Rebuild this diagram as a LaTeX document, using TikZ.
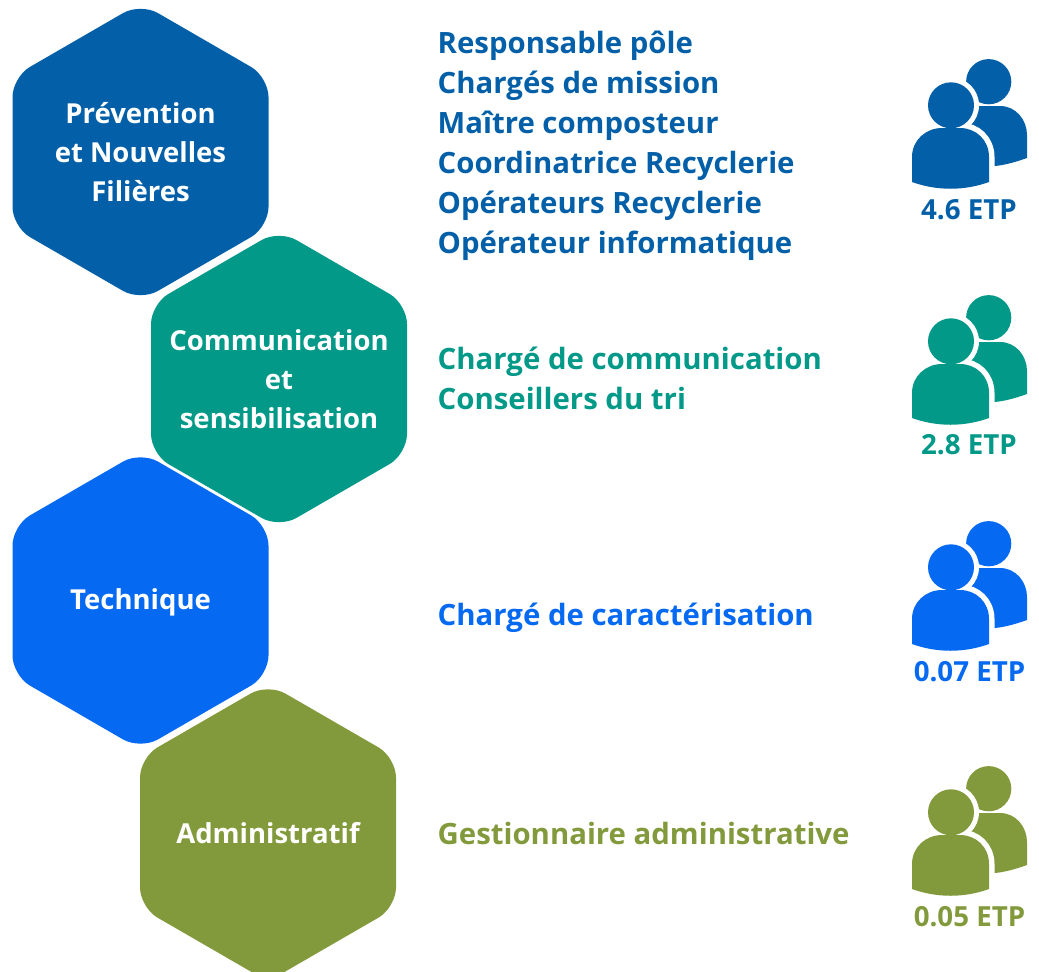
\documentclass[tikz,border=0pt]{standalone}
\usepackage{fontspec}
\setmainfont{Open Sans}
\definecolor{cA}{HTML}{0360A8}
\definecolor{cB}{HTML}{029988}
\definecolor{cC}{HTML}{056AF1}
\definecolor{cD}{HTML}{829A3C}
\tikzset{
  hexfill/.style={rounded corners=20pt,draw=none},
  hexlabel/.style={font=\bfseries\fontsize{27.5}{39}\selectfont,text=white,align=center,anchor=center,inner sep=0pt},
  rolelabel/.style={font=\bfseries\fontsize{29.35}{40}\selectfont,align=left,anchor=west,inner sep=0pt},
  etplabel/.style={font=\bfseries\fontsize{27.7}{30}\selectfont,anchor=center,inner sep=0pt},
}
% #1 centre x, #2 centre y, #3 colour
\newcommand{\hexshape}[3]{%
  \fill[#3,hexfill] (#1,#2-149) -- (#1+128,#2-75) -- (#1+128,#2+75) -- (#1,#2+149) -- (#1-128,#2+75) -- (#1-128,#2-75) -- cycle;}
\newcommand{\bodyshape}{(912,182) -- (912,157) .. controls (912,140) and (926,128) .. (942,128) -- (960,128) .. controls (976,128) and (989,140) .. (989,157) -- (989,182) .. controls (964,191) and (937,191) .. (912,182) -- cycle}
% #1 y offset, #2 colour
\newcommand{\people}[2]{%
  \begin{scope}[yshift=-#1pt]
    \fill[#2] (988.7,81.7) circle (22.6);
    \begin{scope}
      \clip (960,90) rectangle (1027,190);
      \fill[#2] (950,106) -- (1000,106) .. controls (1016,106) and (1027,120) .. (1027,135) -- (1027,158) .. controls (1016,162) and (1005,165) .. (995,166) -- (950,166) -- cycle;
    \end{scope}
    \fill[white] (951,105.3) circle (28);
    \draw[white,line width=11pt,line join=round] \bodyshape;
    \fill[#2] (951,105.3) circle (23);
    \fill[#2] \bodyshape;
  \end{scope}}
\begin{document}
\begin{tikzpicture}[x=1pt,y=-1pt]
\useasboundingbox (0,0) rectangle (1039,972);
\clip (0,0) rectangle (1039,972);
\hexshape{140.5}{152}{cA}
\hexshape{279}{379}{cB}
\hexshape{140.5}{600.5}{cC}
\hexshape{268}{832.5}{cD}
\node[hexlabel] (h1) at (140.5,152) {Prévention\\et Nouvelles\\Filières};
\node[hexlabel] (h2) at (279,379) {Communication\\et\\sensibilisation};
\node[hexlabel] (h3) at (140.5,602.5) {Technique};
\node[hexlabel] (h4) at (268,833) {Administratif};
\node[rolelabel,text=cA] (r1) at (437.5,145.5) {Responsable pôle\\Chargés de mission\\Maître composteur\\Coordinatrice Recyclerie\\Opérateurs Recyclerie\\Opérateur informatique};
\node[rolelabel,text=cB] (r2) at (437.5,378.5) {Chargé de communication\\Conseillers du tri};
\node[rolelabel,text=cC] (r3) at (437.5,618) {Chargé de caractérisation};
\node[rolelabel,text=cD] (r4) at (437.5,833) {Gestionnaire administrative};
\people{0}{cA}
\people{236}{cB}
\people{462}{cC}
\people{707}{cD}
\node[etplabel,text=cA] (e1) at (969,210) {4.6 ETP};
\node[etplabel,text=cB] (e2) at (969,445) {2.8 ETP};
\node[etplabel,text=cC] (e3) at (969.5,672) {0.07 ETP};
\node[etplabel,text=cD] (e4) at (969.5,917) {0.05 ETP};
\end{tikzpicture}
\end{document}
